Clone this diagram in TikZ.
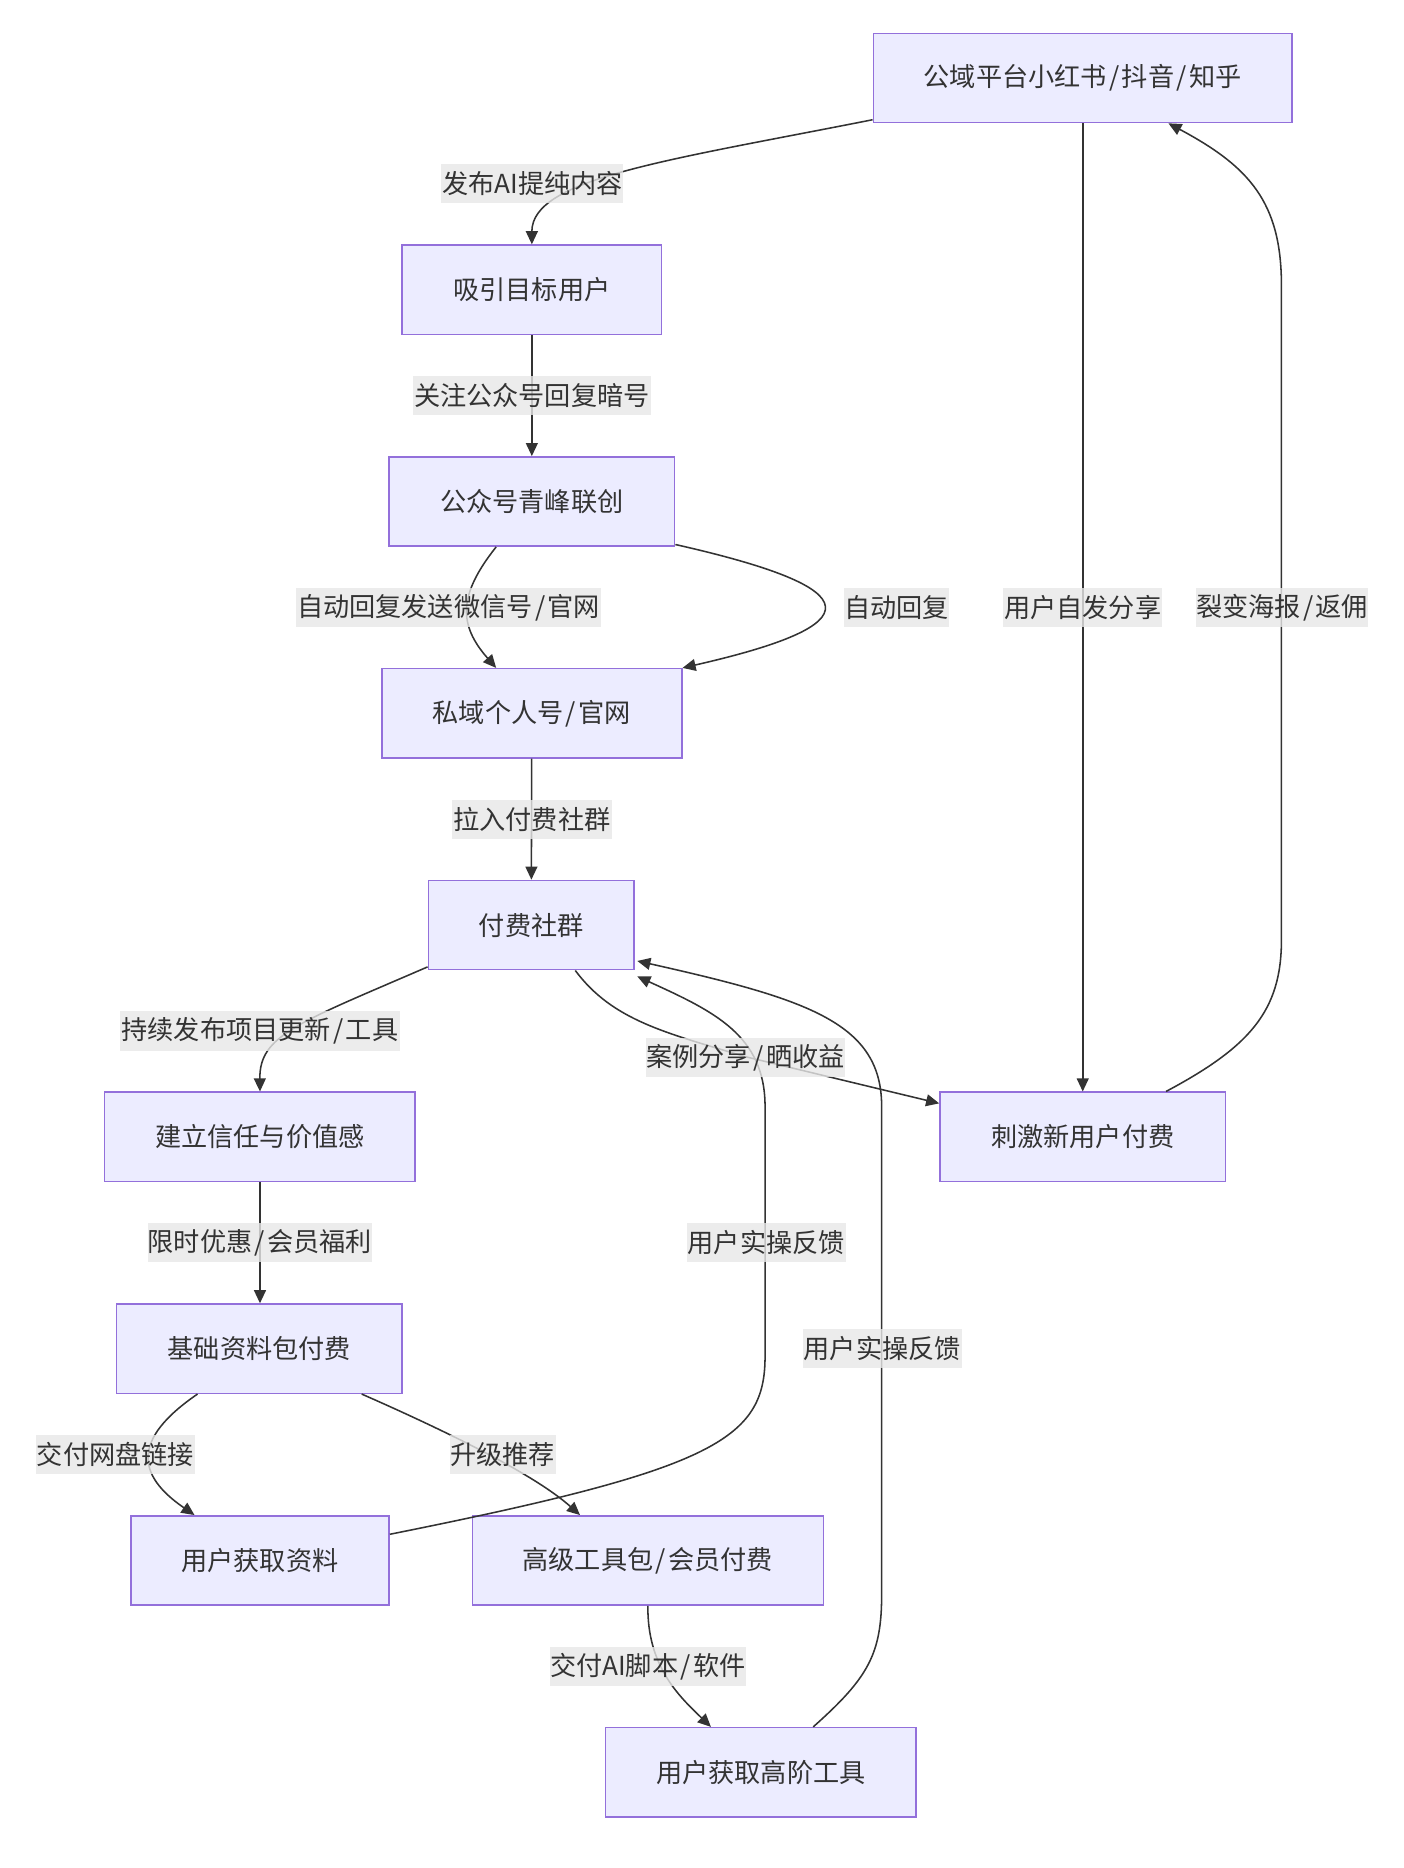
\documentclass[tikz,border=0pt]{standalone}
\usepackage{fontspec}
\setmainfont{Noto Sans CJK SC}[Kerning=Off]
\usetikzlibrary{arrows.meta}
\definecolor{nodefill}{HTML}{ECECFF}
\definecolor{nodeline}{HTML}{9370DB}
\definecolor{ink}{HTML}{333333}
\definecolor{lblbg}{HTML}{E8E8E8}
\newcommand\sls{\kern2pt/\kern2pt}
\tikzset{
  box/.style={draw=nodeline, fill=nodefill, line width=1.3pt, minimum height=75pt,
    inner sep=0pt, text=ink, font=\fontsize{22}{26}\selectfont},
  conn/.style={draw=ink, line width=1.3pt, -{Triangle[length=11pt,width=10pt]}},
  lbl/.style={fill=lblbg, fill opacity=0.8, text opacity=1, text=ink, inner sep=0pt,
    minimum height=33pt, font=\fontsize{22}{26}\selectfont}
}
\begin{document}
\begin{tikzpicture}[x=1pt,y=-1pt]
\fill[white] (0,0) rectangle (1180,1570);
\useasboundingbox (0,0) rectangle (1180,1570);
% nodes
\node[box, minimum width=352pt] (A) at (910,65.5) {公域平台小红书\sls 抖音\sls 知乎};
\node[box, minimum width=218pt] (B) at (447,243.5) {吸引目标用户};
\node[box, minimum width=240pt] (C) at (447,421.5) {公众号青峰联创};
\node[box, minimum width=252pt] (D) at (447,599.5) {私域个人号\sls 官网};
\node[box, minimum width=173pt] (E) at (446.5,777.5) {付费社群};
\node[box, minimum width=261pt] (F) at (218.5,955.5) {建立信任与价值感};
\node[box, minimum width=240pt] (G) at (910,955.5) {刺激新用户付费};
\node[box, minimum width=240pt] (H) at (218,1133.5) {基础资料包付费};
\node[box, minimum width=217pt] (I) at (218.5,1311.5) {用户获取资料};
\node[box, minimum width=295pt] (J) at (544.5,1311.5) {高级工具包\sls 会员付费};
\node[box, minimum width=261pt] (K) at (639.5,1489.5) {用户获取高阶工具};
% connectors
\draw[conn] ([yshift=3pt]A.south west) .. controls (560,135) and (447,150) .. (B.north);
\draw[conn] (B) -- (C);
\draw[conn] ([xshift=-30pt]C.south) .. controls (385,500) and (385,525) .. ([xshift=-30pt]D.north);
\draw[conn] ([yshift=2pt]C.south east) .. controls (733,495) and (733,525) .. (D.north east);
\draw[conn] (D) -- (E);
\draw[conn] ([yshift=3pt]E.south west) .. controls (250,860) and (218,870) .. (F.north);
\draw[conn] ([xshift=37pt]E.south) .. controls (515,858) and (560,868) .. (626,888) -- ([yshift=-10pt]G.north west);
\draw[conn] (A) -- (G);
\draw[conn] ([xshift=70pt]G.north) .. controls (1050,880) and (1077,850) .. (1077,790) -- (1077,240) .. controls (1077,170) and (1050,140) .. ([xshift=72pt]A.south);
\draw[conn] (F.south) -- (F.south |- H.north);
\draw[conn] ([xshift=-52pt]H.south) .. controls (110,1210) and (115,1240) .. ([xshift=-55pt]I.north);
\draw[conn] ([xshift=86pt]H.south) .. controls (380,1205) and (450,1240) .. ([xshift=-57pt]J.north);
\draw[conn] ([yshift=22pt]I.east) .. controls (600,1235) and (643,1210) .. (643,1140) -- (643,930) .. controls (643,870) and (600,850) .. ([xshift=2pt,yshift=-5pt]E.south east);
\draw[conn] (J.south) .. controls (544,1400) and (570,1425) .. ([xshift=-42pt]K.north);
\draw[conn] ([xshift=44pt]K.north) .. controls (730,1410) and (741,1390) .. (741,1340) -- (741,930) .. controls (741,860) and (680,840) .. ([xshift=2pt,yshift=8pt]E.south east);
% labels
\node[lbl, minimum width=153pt] (l1) at (447.5,154.5) {发布AI提纯内容};
\node[lbl, minimum width=200pt] (l2) at (447,332.5) {关注公众号回复暗号};
\node[lbl, minimum width=256pt] (l3) at (377,510.5) {自动回复发送微信号\sls 官网};
\node[lbl, minimum width=89pt] (l4) at (753.5,510.5) {自动回复};
\node[lbl, minimum width=134pt] (l5) at (910,510.5) {用户自发分享};
\node[lbl, minimum width=145pt] (l6) at (1077.5,510.5) {裂变海报\sls 返佣};
\node[lbl, minimum width=134pt] (l7) at (447,688.5) {拉入付费社群};
\node[lbl, minimum width=235pt] (l8) at (218.5,866.5) {持续发布项目更新\sls 工具};
\node[lbl, minimum width=167pt] (l9) at (626.5,889) {案例分享\sls 晒收益};
\node[lbl, minimum width=189pt] (l10) at (218.5,1044.5) {限时优惠\sls 会员福利};
\node[lbl, minimum width=134pt] (l11) at (644,1044.5) {用户实操反馈};
\node[lbl, minimum width=134pt] (l12) at (741.5,1133.5) {用户实操反馈};
\node[lbl, minimum width=134pt] (l13) at (97,1222.5) {交付网盘链接};
\node[lbl, minimum width=89pt] (l14) at (422.5,1222.5) {升级推荐};
\node[lbl, minimum width=165pt] (l15) at (544.5,1400.5) {交付AI脚本\sls 软件};
\end{tikzpicture}
\end{document}
